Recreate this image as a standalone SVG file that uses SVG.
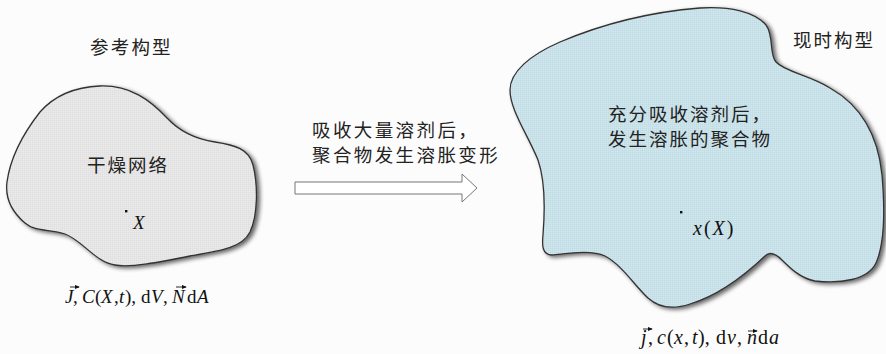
<svg xmlns="http://www.w3.org/2000/svg" width="886" height="354" viewBox="0 0 886 354">
<style>
.cjk{font-family:"Noto Sans CJK SC","Noto Sans",sans-serif;font-size:18.5px;fill:#222;}
.math{font-family:"Liberation Serif","DejaVu Serif","Times New Roman",serif;font-size:19px;fill:#111;}
.big{font-size:20px;}
.it{font-style:italic;}
.blob{stroke:#333;stroke-width:1.3;}
.vec{stroke:#111;stroke-width:0.9;fill:none;}
</style>
<defs>
<filter id="shadow" x="-10%" y="-10%" width="120%" height="120%">
<feGaussianBlur in="SourceAlpha" stdDeviation="2.2"/>
<feOffset dx="3" dy="2" result="b"/>
<feComponentTransfer><feFuncA type="linear" slope="0.6"/></feComponentTransfer>
<feMerge><feMergeNode/><feMergeNode in="SourceGraphic"/></feMerge>
</filter>
<pattern id="gridGrey" width="2" height="2" patternUnits="userSpaceOnUse">
<rect width="2" height="2" fill="#ececec"/>
<path d="M0 0.5H2M0.5 0V2" stroke="#dcdcdc" stroke-width="0.5"/>
</pattern>
<pattern id="gridBlue" width="2" height="2" patternUnits="userSpaceOnUse">
<rect width="2" height="2" fill="#d3e7ee"/>
<path d="M0 0.5H2M0.5 0V2" stroke="#bcd9e3" stroke-width="0.5"/>
</pattern>
<marker id="vh" viewBox="0 0 6 6" refX="5" refY="3" markerWidth="5" markerHeight="5" markerUnits="userSpaceOnUse" orient="auto">
<path d="M0 0.5L6 3L0 5.5Z" fill="#111"/>
</marker>
</defs>
<rect width="886" height="354" fill="#fcfcfc"/>

<g id="reference-config">
<path class="blob" filter="url(#shadow)" fill="url(#gridGrey)" d="M100,86 C130,85 150,100 167,118 C180,132 195,139 215,142 C235,145 249,149 253,165 C258,185 258,215 250,232 C242,248 220,251 190,256 C160,262 130,268 115,265 C95,262 82,240 65,234 C50,229 35,232 25,223 C12,212 5,198 7,182 C10,160 22,135 40,112 C55,95 75,87 100,86 Z"/>
<text class="cjk" x="90" y="54" letter-spacing="2.2">参考构型</text>
<text class="cjk" x="87" y="172" letter-spacing="2">干燥网络</text>
<rect x="125" y="210" width="2.4" height="2.4" fill="#111"/>
<text class="math it" x="133" y="229">X</text>
<text class="math"><tspan class="it" x="65" y="303">J</tspan><tspan x="73">,</tspan><tspan class="it" x="82">C</tspan><tspan x="95">(</tspan><tspan class="it" x="101">X</tspan><tspan x="114">,</tspan><tspan class="it" x="119">t</tspan><tspan x="125">),</tspan><tspan x="141">d</tspan><tspan class="it" x="151">V</tspan><tspan x="163">,</tspan><tspan class="it" x="172">N</tspan><tspan x="187">d</tspan><tspan class="it" x="197">A</tspan></text>
<path class="vec" marker-end="url(#vh)" d="M70,287H79"/>
<path class="vec" marker-end="url(#vh)" d="M176,287H186"/>
</g>

<g id="current-config">
<path class="blob" filter="url(#shadow)" fill="url(#gridBlue)" d="M510,90 C510,72 530,55 560,42 C600,25 650,12 700,8 C730,6 755,12 766,25 C774,35 769,55 776,62 C785,72 810,75 830,88 C860,105 878,135 882,175 C885,210 884,245 876,263 C868,280 840,284 815,281 C800,278 790,268 782,260 C776,254 770,251 765,256 C745,275 720,295 690,304 C672,310 658,307 648,298 C635,286 622,265 605,256 C590,249 565,254 552,255 C542,255 542,245 543,235 C545,210 545,180 538,160 C528,135 510,110 510,90 Z"/>
<text class="cjk" x="793" y="47" letter-spacing="2">现时构型</text>
<text class="cjk" x="608" y="121" letter-spacing="2">充分吸收溶剂后，</text>
<text class="cjk" x="608" y="146" letter-spacing="2">发生溶胀的聚合物</text>
<rect x="680" y="211" width="2.4" height="2.4" fill="#111"/>
<text class="math big" x="693" y="235" letter-spacing="2"><tspan class="it">x</tspan>(<tspan class="it">X</tspan>)</text>
<text class="math big"><tspan class="it" x="641" y="344">j</tspan><tspan x="648">,</tspan><tspan class="it" x="657">c</tspan><tspan x="667">(</tspan><tspan class="it" x="674">x</tspan><tspan x="684">,</tspan><tspan class="it" x="692">t</tspan><tspan x="698">),</tspan><tspan x="716">d</tspan><tspan class="it" x="727">v</tspan><tspan x="737">,</tspan><tspan class="it" x="747">n</tspan><tspan x="758">d</tspan><tspan class="it" x="769">a</tspan></text>
<path class="vec" marker-end="url(#vh)" d="M643,329H652"/>
<path class="vec" marker-end="url(#vh)" d="M748,331H757"/>
</g>

<g id="connectors">
<text class="cjk" x="312" y="137" letter-spacing="2.4">吸收大量溶剂后，</text>
<text class="cjk" x="312" y="162" letter-spacing="2.4">聚合物发生溶胀变形</text>
<polygon points="295,182 462,182 462,174 477,188 462,202 462,194 295,194" fill="#fff" stroke="#777" stroke-width="1"/>
</g>
</svg>
